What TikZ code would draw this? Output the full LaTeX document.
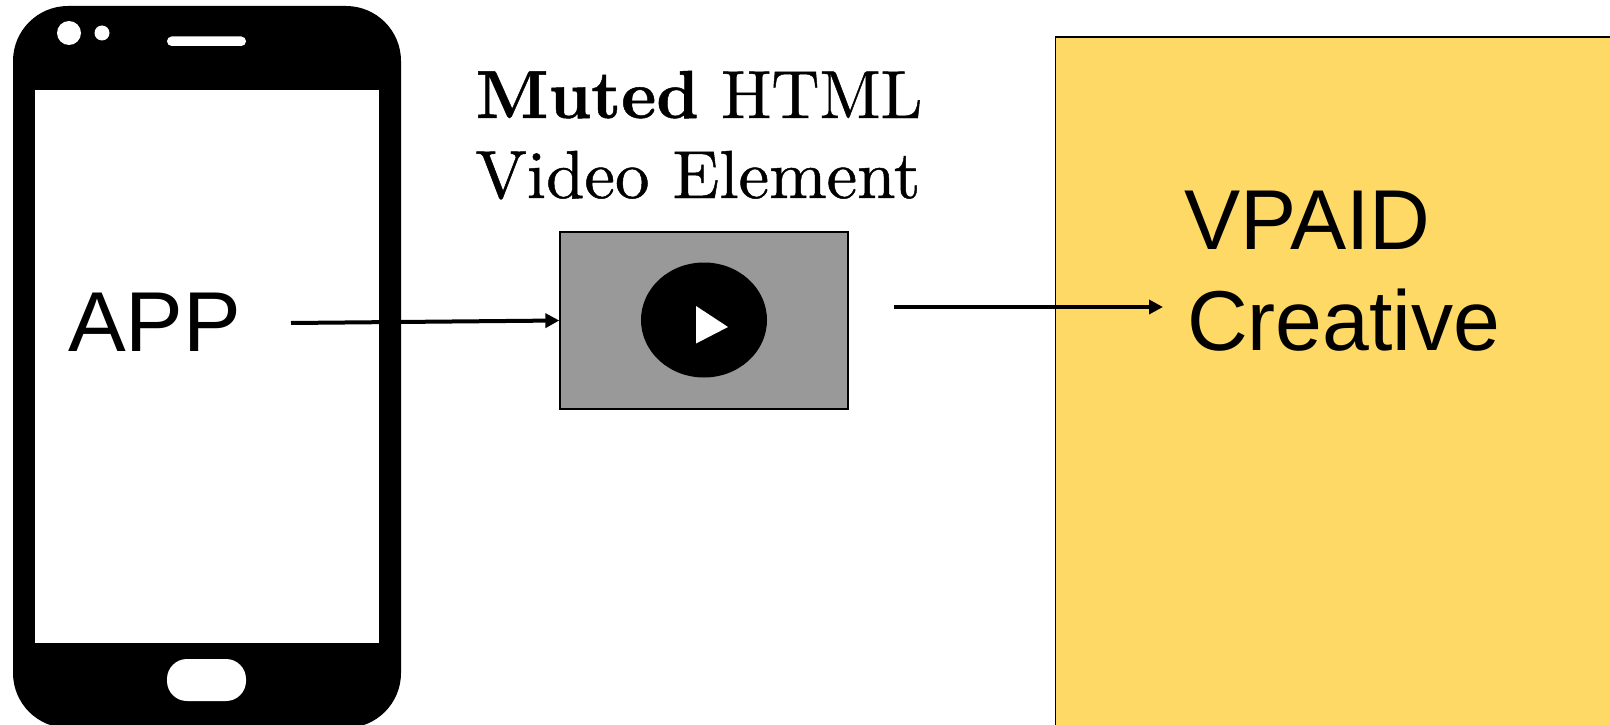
\documentclass[tikz,border=0pt]{standalone}
\usepackage{fontspec}
\usepackage{graphicx}
\newfontfamily\sansf{Liberation Sans}
\newfontfamily\serifx[Extension=.otf,BoldFont=lmroman10-bold,FakeBold=0.7]{lmroman10-regular}
\usetikzlibrary{arrows.meta,shapes.geometric}
\definecolor{vpaidyellow}{HTML}{FFD966}
\definecolor{videogrey}{HTML}{999999}
\tikzset{
  phonebody/.style={fill=black,draw=none,rounded corners=55pt,inner sep=0pt},
  hole/.style={fill=white,draw=none,inner sep=0pt},
  biglabel/.style={anchor=base west,inner sep=0pt,font=\sansf\fontsize{85}{100}\selectfont,text=black},
  seriflabel/.style={anchor=base west,inner sep=0pt,font=\serifx\fontsize{68}{80}\selectfont,text=black},
  flow/.style={line width=4pt,draw=black,-{Triangle[length=14pt,width=14pt]}},
  box/.style={draw=black,line width=1.3pt,inner sep=0pt}
}
\begin{document}
\begin{tikzpicture}[x=1pt,y=-1pt]
\useasboundingbox (0,0) rectangle (1610,725);
\clip (0,0) rectangle (1610,725);
% phone
\draw[phonebody] (13,6) rectangle (401,728);
\node[hole,minimum width=344pt,minimum height=553pt] (screen) at (206.5,366.5) {};
\node[hole,circle,minimum size=24pt] (camera) at (69,33) {};
\node[hole,circle,minimum size=15pt] (sensor) at (102,33) {};
\fill[white,rounded corners=4.7pt] (167,36.5) rectangle (246,46);
\fill[white,rounded corners=20pt] (167,659) rectangle (246,701);
% yellow box
\fill[vpaidyellow] (1055.5,37) rectangle (1612,728);
\draw[black,line width=1.2pt] (1055.5,728) -- (1055.5,37) -- (1612,37);
% video
\node[box,fill=videogrey,minimum width=288pt,minimum height=177pt] (video) at (704,320.5) {};
\node[ellipse,fill=black,draw=none,inner sep=0pt,minimum width=126pt,minimum height=115pt] (playdisc) at (704,320) {};
\fill[white] (696,306) -- (728,327) -- (696,343.5) -- cycle;
% labels
\node[biglabel] (app) at (68,351) {\scalebox{1.018}[1]{APP}};
\node[biglabel] (vpaid) at (1184,249) {\scalebox{0.99}[1]{VPAID}};
\node[biglabel] (creative) at (1187,350) {\scalebox{0.99}[1]{Creative}};
\node[seriflabel] (muted) at (475.5,118) {\scalebox{0.982}[1]{\textbf{Muted} HTML}};
\node[seriflabel] (element) at (475,198) {\scalebox{1.014}[1]{Video Element}};
% connectors
\coordinate (appout) at (291,323);
\coordinate (videoout) at (894,307);
\coordinate (creativein) at (1163,307);
\draw[flow] (appout) -- (video.west);
\draw[flow] (videoout) -- (creativein);
\end{tikzpicture}
\end{document}
